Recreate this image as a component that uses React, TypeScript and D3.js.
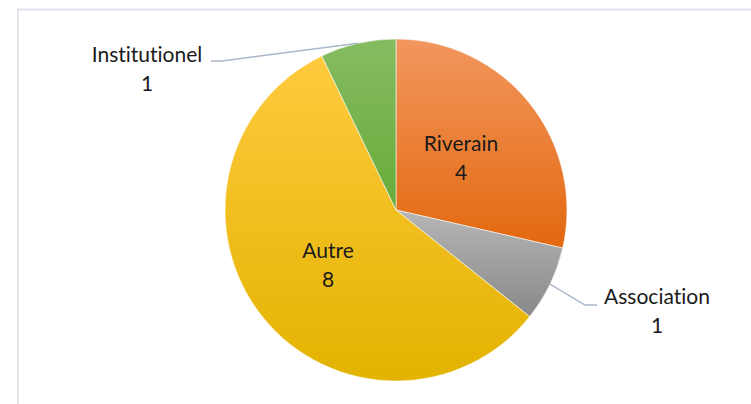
import React, { useEffect, useRef } from "react";
import * as d3 from "d3";

const categories = ["Riverain", "Association", "Autre", "Institutionel"];
const values = [4, 1, 8, 1];
const colorTop = ["#F2975E", "#B6B6B6", "#FFCA3E", "#86BC61"];
const colorBottom = ["#E3680F", "#898989", "#E3B300", "#67AB39"];

// label placement (Excel-like): inside labels for big slices, callouts for small ones
const labelPos: Record<string, { x: number; y: number; leader?: [number, number][] }> = {
  Riverain: { x: 461, y: 151 },
  Autre: { x: 328, y: 258 },
  Association: { x: 657, y: 304, leader: [[585, 305], [597, 305]] },
  Institutionel: { x: 147, y: 62, leader: [[222, 61], [211, 61]] },
};

const W = 751;
const H = 404;

export default function App() {
  const ref = useRef<SVGSVGElement>(null);

  useEffect(() => {
    const svg = d3.select(ref.current).html("");
    const cx = 396;
    const cy = 210;
    const r = 171;

    // chart area border
    svg.append("rect")
      .attr("x", 18).attr("y", 9.5)
      .attr("width", W).attr("height", H)
      .attr("fill", "#fff")
      .attr("stroke", "#D9DEE6")
      .attr("stroke-width", 1.6);

    const defs = svg.append("defs");
    categories.forEach((c, i) => {
      const g = defs.append("linearGradient")
        .attr("id", `grad${i}`)
        .attr("x1", 0).attr("y1", 0).attr("x2", 0).attr("y2", 1);
      g.append("stop").attr("offset", "0%").attr("stop-color", colorTop[i]);
      g.append("stop").attr("offset", "100%").attr("stop-color", colorBottom[i]);
    });

    const data = categories.map((name, i) => ({ name, value: values[i], i }));
    const pie = d3.pie<any>().value(d => d.value).sort(null);
    const arc = d3.arc<any>().innerRadius(0).outerRadius(r);
    const edgeArc = d3.arc<any>().innerRadius(r).outerRadius(r);

    const g = svg.append("g").attr("transform", `translate(${cx},${cy})`);
    const arcs = pie(data);

    g.selectAll("path")
      .data(arcs)
      .enter().append("path")
      .attr("d", arc)
      .attr("fill", d => `url(#grad${d.data.i})`)
      .attr("stroke", "#ffffff")
      .attr("stroke-opacity", 0.7)
      .attr("stroke-width", 0.8);

    const font = "Lato, 'Open Sans', sans-serif";
    arcs.forEach(a => {
      const p = labelPos[a.data.name];
      if (p.leader) {
        const [ex, ey] = edgeArc.centroid(a);
        const pts: [number, number][] = [[cx + ex, cy + ey], ...p.leader];
        svg.append("path")
          .attr("d", d3.line()(pts))
          .attr("fill", "none")
          .attr("stroke", "#A9B7C9")
          .attr("stroke-width", 1.4);
      }
      const t = svg.append("text")
        .attr("text-anchor", "middle")
        .attr("font-family", font)
        .attr("font-size", 21)
        .style("font-variant-ligatures", "none")
        .style("font-feature-settings", "'liga' 0, 'clig' 0")
        .attr("fill", "#1a1a1a");
      t.append("tspan").attr("x", p.x).attr("y", p.y).text(a.data.name);
      t.append("tspan").attr("x", p.x).attr("y", p.y + 28.5).text(String(a.data.value));
    });
  }, []);

  return (
    <svg
      ref={ref}
      width={W}
      height={H}
      style={{ position: "absolute", left: 0, top: 0, display: "block" }}
    />
  );
}
